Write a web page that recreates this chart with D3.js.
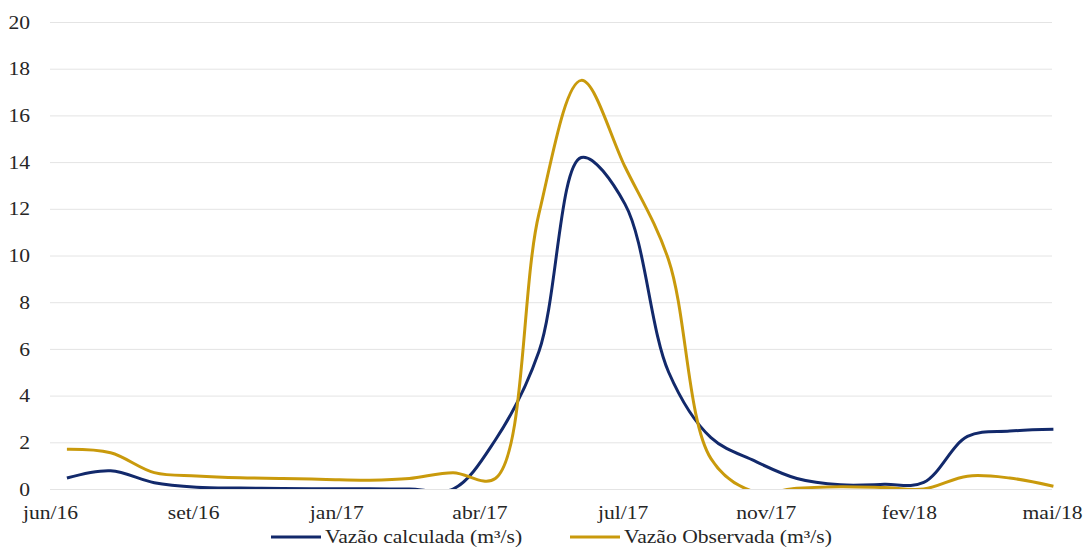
<!DOCTYPE html>
<html>
<head>
<meta charset="utf-8">
<script src="https://cdn.jsdelivr.net/npm/d3@7"></script>
<style>
  html, body { margin: 0; padding: 0; background: #ffffff; }
  svg { display: block; }
  text { font-family: "Liberation Serif", "Times New Roman", serif; }
</style>
</head>
<body>
<svg id="chart" width="1084" height="549"></svg>
<script>
// ---- data ----
const monthEnds = [
  "2016-06-30","2016-07-31","2016-08-31","2016-09-30","2016-10-31","2016-11-30",
  "2016-12-31","2017-01-31","2017-02-28","2017-03-31","2017-04-30","2017-05-31",
  "2017-06-30","2017-07-31","2017-08-31","2017-09-30","2017-10-31","2017-11-30",
  "2017-12-31","2018-01-31","2018-02-28","2018-03-31","2018-04-30","2018-05-31"
];
const vazaoCalculada = [0.47, 0.78, 0.27, 0.08, 0.04, 0.02, 0.01, 0.01, 0.0, 0.0, 2.1, 5.9,
                        14.2, 12.2, 5.0, 2.2, 1.2, 0.45, 0.18, 0.2, 0.28, 2.25, 2.48, 2.56];
const vazaoObservada = [1.7, 1.55, 0.7, 0.56, 0.48, 0.45, 0.41, 0.38, 0.45, 0.7, 0.45, 11.8,
                        17.5, 13.8, 9.8, 1.3, -0.12, 0.03, 0.1, 0.06, 0.0, 0.55, 0.47, 0.12];
const seriesNames = ["Vazão calculada (m³/s)", "Vazão Observada (m³/s)"];
const xTickLabels = ["jun/16","set/16","jan/17","abr/17","jul/17","nov/17","fev/18","mai/18"];
const yTicks = [0, 2, 4, 6, 8, 10, 12, 14, 16, 18, 20];
const axisStart = "2016-06-18", axisEnd = "2018-05-30";

// ---- layout ----
const colors = ["#12296b", "#c99a0c"];
const plotL = 50, plotR = 1052, plotT = 22, plotB = 489;
const sx = 1.2; // horizontal stretch of the text in the reference
const fontFam = '"Liberation Serif", "Times New Roman", serif';
const textCol = "#262626";
const parse = d3.timeParse("%Y-%m-%d");

const svg = d3.select("#chart");
const t0 = parse(axisStart), t1 = parse(axisEnd);
const x = d3.scaleTime().domain([t0, t1]).range([plotL, plotR]);
const y = d3.scaleLinear().domain([0, 20]).range([plotB, plotT]);

// gridlines
svg.append("g").selectAll("line").data(yTicks).join("line")
  .attr("x1", plotL).attr("x2", plotR)
  .attr("y1", d => y(d) + 0.5).attr("y2", d => y(d) + 0.5)
  .attr("stroke", "#e4e4e4").attr("stroke-width", 1);

// y axis labels
const yAxis = svg.append("g").attr("transform", "translate(30,0)")
  .call(d3.axisLeft(y).tickValues(yTicks).tickSize(0).tickPadding(0));
yAxis.attr("font-family", fontFam);
yAxis.select(".domain").remove();
yAxis.selectAll("text")
  .attr("x", 0).attr("dy", "0.34em")
  .attr("transform", `scale(${sx},1)`)
  .style("font-family", fontFam)
  .style("font-size", "18px").attr("fill", textCol);

// x axis labels (evenly spaced over the date axis)
const xTickVals = xTickLabels.map((_, i) => new Date(+t0 + i * (t1 - t0) / (xTickLabels.length - 1)));
const xAxis = svg.append("g").attr("transform", `translate(0,${plotB})`)
  .call(d3.axisBottom(x).tickValues(xTickVals).tickSize(0)
        .tickFormat((d, i) => xTickLabels[i]));
xAxis.attr("font-family", fontFam);
xAxis.select(".domain").remove();
xAxis.selectAll("text")
  .attr("y", 30).attr("dy", 0)
  .attr("transform", `scale(${sx},1)`)
  .style("font-family", fontFam)
  .style("font-size", "18px").attr("fill", textCol);

// clip to plot area
svg.append("clipPath").attr("id", "plotClip")
  .append("rect").attr("x", 0).attr("y", 0).attr("width", 1084).attr("height", plotB);

const dates = monthEnds.map(parse);
const line = d3.line()
  .x((d, i) => x(dates[i]))
  .y(d => y(d))
  .curve(d3.curveCatmullRom.alpha(0.5));

const series = [vazaoCalculada, vazaoObservada];
svg.append("g").attr("clip-path", "url(#plotClip)")
  .selectAll("path").data(series).join("path")
  .attr("d", d => line(d))
  .attr("fill", "none")
  .attr("stroke", (d, i) => colors[i])
  .attr("stroke-width", 3)
  .attr("stroke-linejoin", "round");

// legend
const legendItems = [{x: 271}, {x: 570}];
const lg = svg.append("g");
legendItems.forEach((it, i) => {
  lg.append("line").attr("x1", it.x).attr("x2", it.x + 50)
    .attr("y1", 537).attr("y2", 537)
    .attr("stroke", colors[i]).attr("stroke-width", 3);
  lg.append("text")
    .attr("transform", `translate(${it.x + 54},543) scale(${sx},1)`)
    .style("font-family", fontFam)
    .style("font-size", "18px").attr("fill", textCol)
    .text(seriesNames[i]);
});
</script>
</body>
</html>
